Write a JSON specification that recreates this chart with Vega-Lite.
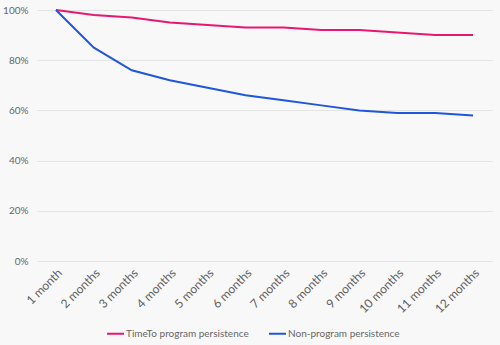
{
  "$schema": "https://vega.github.io/schema/vega-lite/v6.json",
  "width": 455,
  "height": 251,
  "autosize": {"type": "none"},
  "padding": {"left": 37, "top": 10, "right": 8, "bottom": 84},
  "background": "#f8f8f8",
  "config": {
    "view": {"stroke": null},
    "font": "Lato",
    "axis": {"labelColor": "#666666", "labelFont": "Lato", "domain": false, "ticks": false, "gridColor": "#e4e4e4", "title": null}
  },
  "data": {
    "values": [
      {"month": "1 month", "series": "TimeTo program persistence", "value": 1.00},
      {"month": "2 months", "series": "TimeTo program persistence", "value": 0.98},
      {"month": "3 months", "series": "TimeTo program persistence", "value": 0.97},
      {"month": "4 months", "series": "TimeTo program persistence", "value": 0.95},
      {"month": "5 months", "series": "TimeTo program persistence", "value": 0.94},
      {"month": "6 months", "series": "TimeTo program persistence", "value": 0.93},
      {"month": "7 months", "series": "TimeTo program persistence", "value": 0.93},
      {"month": "8 months", "series": "TimeTo program persistence", "value": 0.92},
      {"month": "9 months", "series": "TimeTo program persistence", "value": 0.92},
      {"month": "10 months", "series": "TimeTo program persistence", "value": 0.91},
      {"month": "11 months", "series": "TimeTo program persistence", "value": 0.90},
      {"month": "12 months", "series": "TimeTo program persistence", "value": 0.90},
      {"month": "1 month", "series": "Non-program persistence", "value": 1.00},
      {"month": "2 months", "series": "Non-program persistence", "value": 0.85},
      {"month": "3 months", "series": "Non-program persistence", "value": 0.76},
      {"month": "4 months", "series": "Non-program persistence", "value": 0.72},
      {"month": "5 months", "series": "Non-program persistence", "value": 0.69},
      {"month": "6 months", "series": "Non-program persistence", "value": 0.66},
      {"month": "7 months", "series": "Non-program persistence", "value": 0.64},
      {"month": "8 months", "series": "Non-program persistence", "value": 0.62},
      {"month": "9 months", "series": "Non-program persistence", "value": 0.60},
      {"month": "10 months", "series": "Non-program persistence", "value": 0.59},
      {"month": "11 months", "series": "Non-program persistence", "value": 0.59},
      {"month": "12 months", "series": "Non-program persistence", "value": 0.58}
    ]
  },
  "mark": {"type": "line", "strokeWidth": 2},
  "encoding": {
    "x": {
      "field": "month", "type": "ordinal", "sort": null,
      "scale": {"type": "point", "padding": 0.5},
      "axis": {"labelAngle": -45, "labelFontSize": 12, "labelPadding": 6, "grid": false, "labelColor": "#606060"}
    },
    "y": {
      "field": "value", "type": "quantitative",
      "scale": {"domain": [0, 1]},
      "axis": {"format": ".0%", "values": [0, 0.2, 0.4, 0.6, 0.8, 1], "labelOverlap": false, "labelFontSize": 10, "labelPadding": 9}
    },
    "color": {
      "field": "series", "type": "nominal",
      "scale": {"domain": ["TimeTo program persistence", "Non-program persistence"], "range": ["#e8176f", "#1f56dd"]},
      "legend": {
        "title": null, "orient": "none", "direction": "horizontal",
        "legendX": 69, "legendY": 314,
        "symbolType": "stroke", "symbolSize": 289, "symbolStrokeWidth": 2,
        "labelFontSize": 10, "labelColor": "#666666", "columnPadding": 16, "labelOffset": 1
      }
    }
  }
}
